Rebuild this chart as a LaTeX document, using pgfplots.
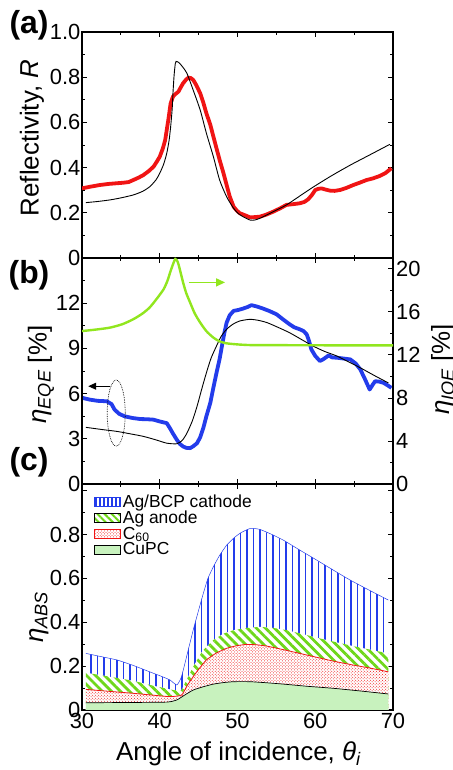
\documentclass[border=0pt]{standalone}
\usepackage{pgfplots}
\pgfplotsset{compat=1.18}
\usepackage{fontspec}
\setmainfont{Liberation Sans}
\usetikzlibrary{patterns,patterns.meta,arrows.meta}

\definecolor{rdata}{RGB}{240,20,20}
\definecolor{bdata}{RGB}{35,60,235}
\definecolor{lime}{RGB}{145,230,30}
\definecolor{cupc}{RGB}{200,242,190}
\definecolor{stripe}{RGB}{110,215,25}

\pgfplotsset{
  panel/.style={
    scale only axis, width=311bp, height=226bp, anchor=south west,
    xmin=30, xmax=70, xtick={30,40,50,60,70}, minor xtick={35,45,55,65},
    tick style={black, line width=0.8pt},
    major tick length=5bp, minor tick length=3bp,
    axis line style={line width=1.1pt},
    tick label style={font=\fontsize{22}{24}\selectfont},
    label style={font=\fontsize{26}{28}\selectfont},
    /pgf/number format/assume math mode=true,
    yticklabel style={inner sep=1.5pt},
  },
}

\begin{document}
\begin{tikzpicture}
% (a) reflectivity
\begin{axis}[panel, at={(82bp,512bp)},
  ymin=0, ymax=1, ytick={0,0.2,0.4,0.6,0.8,1}, yticklabels={0,0.2,0.4,0.6,0.8,1.0},
  minor ytick={0.1,0.3,0.5,0.7,0.9}, xticklabels={},
  ylabel={Reflectivity, \textit{R}},
  ylabel style={at={(axis description cs:-0.161,0.531)}, anchor=center}]
\addplot[rdata, line width=3.8bp, line join=round] coordinates {
 (30,0.308) (31,0.315) (32.3,0.323) (33.5,0.328) (35.3,0.333) (36,0.336) (36.6,0.345)
 (37.3,0.356) (37.9,0.367) (38.6,0.385) (39.2,0.404) (39.6,0.425) (40.0,0.448)
 (40.4,0.485) (40.7,0.522) (41.1,0.611) (41.4,0.684) (41.7,0.714) (42.0,0.725)
 (42.4,0.736) (42.7,0.755) (43.0,0.773) (43.4,0.79) (43.7,0.798) (44.0,0.796)
 (44.3,0.788) (44.7,0.765) (45.2,0.729) (45.6,0.688) (46.0,0.64) (46.5,0.59)
 (46.9,0.537) (47.3,0.485) (47.7,0.434) (48.2,0.375) (48.6,0.323) (49.0,0.272)
 (49.5,0.227) (49.9,0.21) (50.3,0.198) (50.9,0.19) (51.6,0.18) (52.3,0.181)
 (52.9,0.183) (53.7,0.192) (54.6,0.205) (55.5,0.22) (56.3,0.235) (57.1,0.238)
 (58.0,0.242) (58.6,0.248) (59.1,0.26) (59.6,0.28) (60.0,0.301) (60.4,0.306)
 (60.8,0.308) (61.3,0.303) (61.9,0.298) (62.5,0.297) (63.2,0.301) (64.0,0.31)
 (64.9,0.323) (65.7,0.333) (66.6,0.345) (67.4,0.352) (68.3,0.363) (69.0,0.375)
 (69.8,0.397)};
\addplot[black, line width=0.9pt, smooth, tension=0.4] coordinates {
 (30.5,0.245) (32,0.25) (33.6,0.257) (35,0.266) (36.6,0.279) (37.8,0.295)
 (38.7,0.315) (39.5,0.345) (40.0,0.375) (40.5,0.415) (40.9,0.463) (41.2,0.52)
 (41.4,0.58) (41.6,0.66) (41.7,0.73) (41.85,0.81) (42.0,0.86) (42.1,0.87)
 (42.4,0.866) (42.6,0.86) (43.0,0.843) (43.5,0.817) (44.3,0.743) (45.2,0.655)
 (46.0,0.552) (46.9,0.448) (47.7,0.345) (48.6,0.271) (49.5,0.22) (50.1,0.197)
 (50.7,0.183) (51.6,0.168) (52.2,0.168) (52.9,0.176) (54.6,0.205) (56.3,0.235)
 (58,0.274) (59.7,0.313) (62,0.362) (64.5,0.411) (67,0.456) (69.6,0.503)};
\end{axis}

% (b) EQE (left) and IQE (right)
\begin{axis}[panel, at={(82bp,286bp)},
  ymin=0, ymax=15, ytick={0,3,6,9,12,15}, yticklabels={0,3,6,9,12,{}},
  minor ytick={1.5,4.5,7.5,10.5,13.5}, ytick pos=left, xticklabels={},
  ylabel={{\itshape η}\textsubscript{\itshape EQE} [\%]},
  ylabel style={at={(axis description cs:-0.132,0.484)}, anchor=center}]
\addplot[bdata, line width=3.8bp, line join=round] coordinates {
 (30.1,5.71) (31,5.6) (32,5.52) (33.2,5.49) (33.8,5.3) (34.2,4.93) (34.8,4.65)
 (35.5,4.49) (36.5,4.38) (37.5,4.31) (38.3,4.3) (39.2,4.27) (40.0,4.15) (40.9,4.04)
 (41.3,3.71) (41.7,3.35) (42.2,2.93) (42.6,2.65) (43.0,2.49) (43.4,2.4) (43.9,2.38)
 (44.3,2.5) (44.8,2.71) (45.2,3.1) (45.6,3.71) (46.0,4.5) (46.5,5.38) (46.9,6.4)
 (47.3,7.38) (47.7,8.3) (48.0,9.16) (48.3,10.0) (48.6,10.71) (49.0,11.2) (49.5,11.49)
 (50.1,11.55) (50.7,11.64) (51.3,11.75) (51.8,11.87) (52.5,11.78) (53.3,11.64)
 (54.1,11.48) (55.0,11.27) (55.8,10.95) (56.7,10.6) (57.3,10.4) (58.0,10.27)
 (58.5,10.15) (58.9,9.93) (59.2,9.5) (59.5,8.93) (60.0,8.5) (60.6,8.16) (61.1,8.3)
 (61.7,8.53) (62.2,8.4) (62.8,8.38) (63.6,8.33) (64.5,8.27) (65.2,8.0) (65.8,7.6)
 (66.4,6.95) (67.0,6.27) (67.4,6.6) (67.7,6.82) (68.2,6.8) (68.8,6.71) (69.3,6.55)
 (69.8,6.38)};
\addplot[black, line width=0.9pt, smooth, tension=0.4] coordinates {
 (30.5,3.76) (32.5,3.62) (34.5,3.49) (36.2,3.33) (37.9,3.16) (39.5,2.93) (40.9,2.71)
 (42.2,2.67) (42.9,2.9) (43.5,3.38) (44.2,4.2) (44.8,5.16) (45.4,6.3) (46.0,7.38)
 (46.6,8.35) (47.3,9.16) (47.9,9.8) (48.6,10.27) (49.4,10.6) (50.3,10.82) (51.6,10.93)
 (52.7,10.86) (53.8,10.71) (55.2,10.4) (56.7,10.04) (58.2,9.6) (59.7,9.16) (61.2,8.8)
 (62.8,8.49) (64.3,8.1) (65.8,7.71) (67.6,7.2) (69.4,6.71)};
\draw[-{Triangle[length=8bp,width=7bp]}, line width=0.9pt] (axis cs:33.6,6.49) -- (axis cs:30.8,6.49);
\draw[densely dotted, line width=0.7pt] (axis cs:34.4,4.71) ellipse [x radius=9bp, y radius=33bp];
\draw[-{Triangle[length=9bp,width=8bp]}, lime, line width=1.4pt] (axis cs:43.7,13.38) -- (axis cs:48.4,13.38);
\end{axis}
\begin{axis}[panel, at={(82bp,286bp)}, hide x axis,
  ymin=0, ymax=21, ytick={0,4,8,12,16,20}, minor ytick={2,6,10,14,18},
  ytick pos=right, yticklabel pos=right, yticklabel style={inner sep=3pt},
  ylabel={{\itshape η}\textsubscript{\itshape IQE} [\%]},
  ylabel style={at={(axis description cs:1.165,0.507)}, anchor=center, rotate=0}]
\addplot[lime, line width=2.4bp, smooth, tension=0.4] coordinates {
 (30.0,14.21) (31.8,14.35) (33.6,14.53) (35.2,14.85) (36.6,15.31) (37.8,15.85)
 (38.7,16.4) (39.6,17.2) (40.5,18.1) (41.0,18.9) (41.4,19.8) (41.8,20.6) (42.0,20.9)
 (42.2,20.8) (42.4,20.44) (42.7,19.6) (43.0,18.73) (43.4,17.75) (43.9,16.87)
 (44.5,15.85) (45.2,15.0) (46.0,14.2) (46.9,13.6) (47.7,13.25) (48.6,13.07)
 (50.0,12.97) (51.6,12.91) (55,12.9) (60,12.89) (65,12.88) (70,12.88)};
\end{axis}

% (c) absorption
\begin{axis}[panel, at={(82bp,60bp)},
  ymin=0, ymax=1.03, ytick={0,0.2,0.4,0.6,0.8,1}, yticklabels={0,0.2,0.4,0.6,0.8,{}},
  minor ytick={0.1,0.3,0.5,0.7,0.9},
  xlabel={Angle of incidence, {\itshape θ}\textsubscript{\itshape i}},
  xlabel style={at={(axis description cs:0.503,-0.195)}, anchor=center},
  ylabel={{\itshape η}\textsubscript{\itshape ABS}},
  ylabel style={at={(axis description cs:-0.138,0.41)}, anchor=center},
  legend image code/.code={\draw[#1] (0bp,-4.5bp) rectangle (26bp,4.5bp);},
  legend cell align=left,
  legend style={at={(0.035,0.962)}, anchor=north west, draw=none, fill=none,
    font=\fontsize{17.5}{18}\selectfont, row sep=-1.5bp, inner sep=0pt,
    nodes={inner sep=1.8bp}},
]
\addlegendimage{draw=bdata, pattern={Lines[angle=90,distance=4bp,line width=1.2bp]}, pattern color=bdata}
\addlegendimage{draw=none, pattern={Lines[angle=-45,distance=5bp,line width=2bp]}, pattern color=stripe}
\addlegendimage{draw=rdata, pattern color=rdata, pattern=crosshatch dots}
\addlegendimage{draw=black, fill=cupc}
% Ag/BCP cathode (cumulative top)
\addplot[forget plot, draw=none, preaction={fill=white},
  pattern={Lines[angle=90,distance=6.5bp,line width=1.4bp]}, pattern color=bdata] coordinates {
 (30.5,0.258) (32.5,0.243) (34.5,0.228) (36.6,0.203) (38.7,0.174) (40.1,0.155)
 (41.3,0.137) (42.2,0.114) (42.8,0.152) (43.5,0.25) (44.3,0.364) (45.0,0.455)
 (45.6,0.531) (46.2,0.6) (46.9,0.653) (47.7,0.705) (48.6,0.751) (49.5,0.783)
 (50.3,0.805) (51.0,0.818) (51.6,0.827) (52.2,0.827) (52.9,0.823) (54.3,0.802)
 (55.9,0.774) (58.0,0.729) (60.2,0.683) (62.3,0.638) (64.5,0.592) (67.0,0.545)
 (69.4,0.501)} \closedcycle;
\addplot[forget plot, bdata, line width=0.5pt, smooth, tension=0.3] coordinates {
 (30.5,0.258) (32.5,0.243) (34.5,0.228) (36.6,0.203) (38.7,0.174) (40.1,0.155)
 (41.3,0.137) (42.2,0.114) (42.8,0.152) (43.5,0.25) (44.3,0.364) (45.0,0.455)
 (45.6,0.531) (46.2,0.6) (46.9,0.653) (47.7,0.705) (48.6,0.751) (49.5,0.783)
 (50.3,0.805) (51.0,0.818) (51.6,0.827) (52.2,0.827) (52.9,0.823) (54.3,0.802)
 (55.9,0.774) (58.0,0.729) (60.2,0.683) (62.3,0.638) (64.5,0.592) (67.0,0.545)
 (69.4,0.501)};
% Ag anode
\addplot[forget plot, draw=none, preaction={fill=white},
  pattern={Lines[angle=-45,distance=6.4bp,line width=2.8bp]}, pattern color=stripe] coordinates {
 (30.5,0.17) (32.5,0.158) (34.5,0.146) (36.6,0.133) (39.0,0.112) (41.7,0.091)
 (42.8,0.091) (43.5,0.14) (44.3,0.197) (45.5,0.27) (46.9,0.319) (48.2,0.348)
 (49.5,0.364) (51.2,0.374) (52.9,0.379) (54.6,0.374) (56.3,0.364) (58.5,0.345)
 (60.6,0.326) (62.8,0.308) (64.9,0.291) (67.2,0.274) (69.4,0.258)} \closedcycle;
% C60
\addplot[forget plot, draw=none, preaction={fill=white}, pattern color=rdata,
  pattern=crosshatch dots] coordinates {
 (30.5,0.094) (33.5,0.085) (36.6,0.076) (39.0,0.068) (41.3,0.061) (42.8,0.068)
 (43.5,0.11) (44.3,0.152) (45.1,0.19) (46.0,0.228) (47.2,0.258) (48.6,0.281)
 (49.9,0.293) (51.2,0.299) (52.5,0.297) (53.8,0.291) (55.9,0.275) (58.0,0.258)
 (60.2,0.24) (62.3,0.223) (65.0,0.204) (67.2,0.19) (69.4,0.174)} \closedcycle;
\addplot[forget plot, rdata, line width=0.8pt, smooth, tension=0.3] coordinates {
 (30.5,0.094) (33.5,0.085) (36.6,0.076) (39.0,0.068) (41.3,0.061) (42.8,0.068)
 (43.5,0.11) (44.3,0.152) (45.1,0.19) (46.0,0.228) (47.2,0.258) (48.6,0.281)
 (49.9,0.293) (51.2,0.299) (52.5,0.297) (53.8,0.291) (55.9,0.275) (58.0,0.258)
 (60.2,0.24) (62.3,0.223) (65.0,0.204) (67.2,0.19) (69.4,0.174)};
% CuPC
\addplot[forget plot, draw=none, fill=cupc] coordinates {
 (30.5,0.033) (35,0.034) (40.9,0.036) (42.2,0.046) (43.2,0.068) (44.3,0.091)
 (45.6,0.106) (46.9,0.118) (48.2,0.125) (49.5,0.129) (51.6,0.129) (53.8,0.124)
 (55.9,0.118) (59,0.108) (62.3,0.099) (66,0.086) (69.4,0.073)} \closedcycle;
\addplot[forget plot, black, line width=0.7pt, smooth, tension=0.3] coordinates {
 (30.5,0.033) (35,0.034) (40.9,0.036) (42.2,0.046) (43.2,0.068) (44.3,0.091)
 (45.6,0.106) (46.9,0.118) (48.2,0.125) (49.5,0.129) (51.6,0.129) (53.8,0.124)
 (55.9,0.118) (59,0.108) (62.3,0.099) (66,0.086) (69.4,0.073)};
\legend{Ag/BCP cathode, Ag anode, C\textsubscript{60}, CuPC}
\end{axis}

\node[font=\fontsize{32}{34}\bfseries\selectfont] at (29bp,745bp) {(a)};
\node[font=\fontsize{32}{34}\bfseries\selectfont] at (29bp,495bp) {(b)};
\node[font=\fontsize{32}{34}\bfseries\selectfont] at (29bp,308bp) {(c)};

\pgfresetboundingbox
\path[use as bounding box] (0,0) rectangle (453bp,770bp);
\end{tikzpicture}
\end{document}
